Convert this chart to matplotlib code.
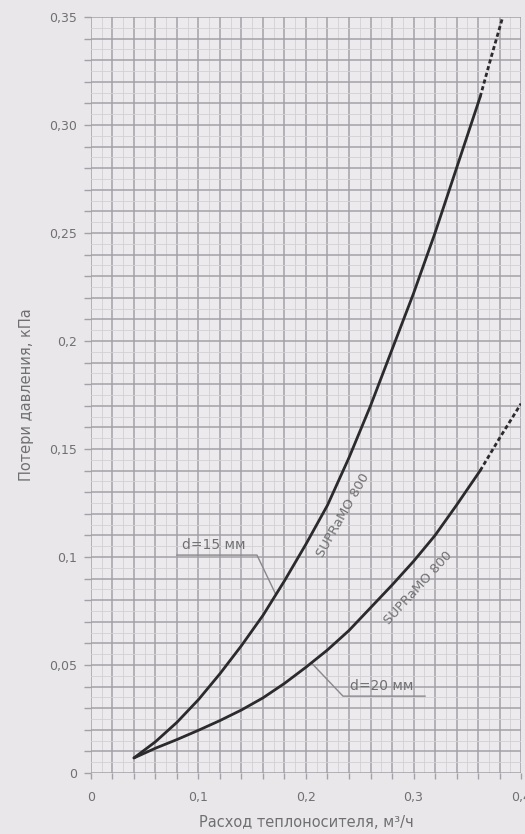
import numpy as np
import matplotlib
matplotlib.use("Agg")
import matplotlib.pyplot as plt
from matplotlib.ticker import MultipleLocator, FixedLocator

plt.rcParams['font.family'] = ['DejaVu Sans']

# Flow rate, m3/h, and pressure loss, kPa
flow_d15 = [0.040, 0.060, 0.080, 0.100, 0.120, 0.140, 0.160, 0.180, 0.200,
            0.220, 0.240, 0.260, 0.280, 0.300, 0.320, 0.340, 0.362]
loss_d15 = [0.007, 0.0145, 0.0235, 0.034, 0.046, 0.059, 0.073, 0.089, 0.106,
            0.124, 0.146, 0.170, 0.196, 0.222, 0.250, 0.280, 0.313]
flow_d15_ext = [0.362, 0.372, 0.383]
loss_d15_ext = [0.313, 0.331, 0.350]

flow_d20 = [0.040, 0.060, 0.080, 0.100, 0.120, 0.140, 0.160, 0.180, 0.200,
            0.220, 0.240, 0.260, 0.280, 0.300, 0.320, 0.340, 0.362]
loss_d20 = [0.007, 0.0115, 0.0155, 0.0198, 0.0243, 0.0292, 0.0348, 0.0415, 0.049,
            0.057, 0.066, 0.0765, 0.087, 0.098, 0.110, 0.124, 0.140]
flow_d20_ext = [0.362, 0.380, 0.400]
loss_d20_ext = [0.140, 0.155, 0.171]

x_ticks = [0, 0.1, 0.2, 0.3, 0.4]
x_tick_labels = ["0", "0,1", "0,2", "0,3", "0,4"]
y_ticks = [0, 0.05, 0.1, 0.15, 0.2, 0.25, 0.30, 0.35]
y_tick_labels = ["0", "0,05", "0,1", "0,15", "0,2", "0,25", "0,30", "0,35"]

series_label = "SUPRaMO 800"
label_d15 = "d=15 мм"
label_d20 = "d=20 мм"

bg = "#e9e7ea"
text_c = "#707072"
curve_c = "#2b2a2d"

fig = plt.figure(figsize=(5.25, 8.34), dpi=100, facecolor=bg)
ax = fig.add_axes([0.1733, 0.0731, 0.8191, 0.9065])
ax.set_facecolor("#eceaed")

ax.set_xlim(0, 0.4)
ax.set_ylim(0, 0.35)

# graph-paper grid
for x in np.arange(0, 0.4001, 0.01):
    major = abs(round(x / 0.02) * 0.02 - x) < 1e-9
    ax.axvline(x, color="#a3a0a7" if major else "#d3d0d5",
               lw=1.1 if major else 0.6, zorder=1)
for y in np.arange(0, 0.3501, 0.005):
    major = abs(round(y / 0.01) * 0.01 - y) < 1e-9
    ax.axhline(y, color="#a3a0a7" if major else "#d3d0d5",
               lw=1.1 if major else 0.6, zorder=1)

for s in ax.spines.values():
    s.set_visible(False)

ax.xaxis.set_major_locator(FixedLocator(x_ticks))
ax.yaxis.set_major_locator(FixedLocator(y_ticks))
ax.set_xticklabels(x_tick_labels)
ax.set_yticklabels(y_tick_labels)
ax.xaxis.set_minor_locator(MultipleLocator(0.02))
ax.yaxis.set_minor_locator(MultipleLocator(0.01))
ax.tick_params(axis="both", which="both", direction="out", color="#a3a0a7",
               labelcolor=text_c, labelsize=9, width=1.0)
ax.tick_params(axis="y", which="both", length=5, pad=5)
ax.tick_params(axis="x", which="both", length=4, pad=9)

ax.set_xlabel("Расход теплоносителя, м³/ч", color=text_c, fontsize=10.5, labelpad=8)
ax.set_ylabel("Потери давления, кПа", color=text_c, fontsize=10.5, labelpad=11)

# curves
ax.plot(flow_d15, loss_d15, color=curve_c, lw=2.0, zorder=4, solid_capstyle="round")
ax.plot(flow_d15_ext, loss_d15_ext, color=curve_c, lw=2.0, ls=(0, (1.5, 1.0)), zorder=4)
ax.plot(flow_d20, loss_d20, color=curve_c, lw=2.0, zorder=4, solid_capstyle="round")
ax.plot(flow_d20_ext, loss_d20_ext, color=curve_c, lw=2.0, ls=(0, (1.5, 1.0)), zorder=4)

# series names along the curves
ax.text(0.2345, 0.1195, series_label, rotation=60.5, rotation_mode="anchor",
        ha="center", va="center", fontsize=9.5, color=text_c, zorder=5)
ax.text(0.304, 0.0856, series_label, rotation=47.5, rotation_mode="anchor",
        ha="center", va="center", fontsize=9.5, color=text_c, zorder=5)

# diameter callouts with leader lines
lead_c = "#8a878d"
x15 = 0.172
y15 = float(np.interp(x15, flow_d15, loss_d15))
ax.plot([0.080, 0.1544, x15], [0.1009, 0.1009, y15], color=lead_c, lw=1.0, zorder=3)
ax.text(0.0847, 0.1025, label_d15, ha="left", va="bottom", fontsize=10,
        color=text_c, zorder=5)

x20 = 0.205
y20 = float(np.interp(x20, flow_d20, loss_d20))
ax.plot([x20, 0.2344, 0.3107], [y20, 0.0356, 0.0356], color=lead_c, lw=1.0, zorder=3)
ax.text(0.2405, 0.0372, label_d20, ha="left", va="bottom", fontsize=10,
        color=text_c, zorder=5)

fig.savefig("out.png", dpi=100, facecolor=bg)
